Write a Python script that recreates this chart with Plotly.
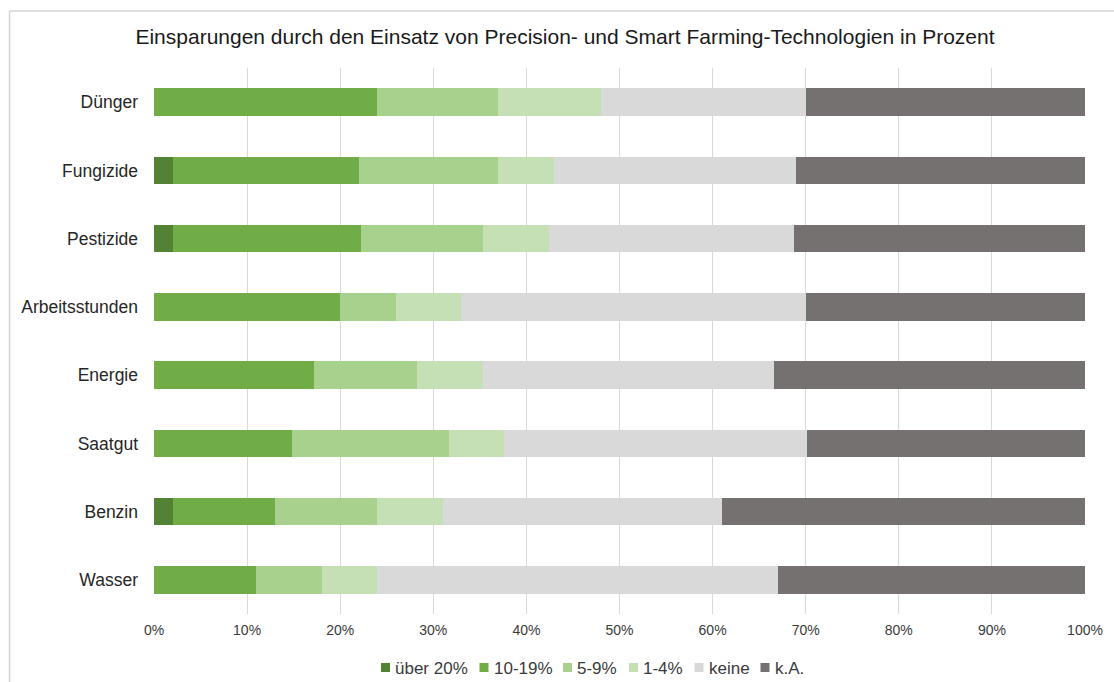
import plotly.graph_objects as go

categories = ["Dünger", "Fungizide", "Pestizide", "Arbeitsstunden", "Energie", "Saatgut", "Benzin", "Wasser"]
series_names = ["über 20%", "10-19%", "5-9%", "1-4%", "keine", "k.A."]
ueber20 = [0, 2, 2, 0, 0, 0, 2, 0]
p10_19 = [24, 20, 20.2, 20, 17.2, 14.8, 11, 11]
p5_9 = [13, 15, 13.1, 6, 11, 16.9, 11, 7]
p1_4 = [11, 6, 7.1, 7, 7.1, 5.9, 7, 6]
keine = [22, 26, 26.3, 37, 31.3, 32.5, 30, 43]
ka = [30, 31, 31.3, 30, 33.4, 29.9, 39, 33]
colors = ["#548235", "#70AD47", "#A9D18E", "#C5E0B4", "#D9D9D9", "#767171"]
x_ticks = [0, 10, 20, 30, 40, 50, 60, 70, 80, 90, 100]
x_ticklabels = ["0%", "10%", "20%", "30%", "40%", "50%", "60%", "70%", "80%", "90%", "100%"]

values = [ueber20, p10_19, p5_9, p1_4, keine, ka]

# plot-area geometry in page pixels (page body margin removed via post_script)
OFF = 0
PLOT_L, PLOT_R, PLOT_T, PLOT_B = 154, 1085, 68, 614
W, H = 1114, 682


def px(xp):
    return (xp - PLOT_L) / (PLOT_R - PLOT_L)


def py(yp):
    return (PLOT_B - yp) / (PLOT_B - PLOT_T)


fig = go.Figure()
for name, vals, col in zip(series_names, values, colors):
    fig.add_trace(go.Bar(
        y=categories, x=vals, name=name, orientation="h",
        marker=dict(color=col, line=dict(width=0)),
        width=0.405, hoverinfo="x+y+name", showlegend=False,
    ))

# custom compact legend (square + label), positioned like the reference
legend_sq_left = [381, 479.5, 563, 629, 694.5, 760.5]
sq_size = 9
legend_y = 667.5
shapes = []
annotations = []
for name, col, xl in zip(series_names, colors, legend_sq_left):
    shapes.append(dict(type="rect", xref="paper", yref="paper",
                       x0=px(xl), x1=px(xl + sq_size),
                       y0=py(legend_y + sq_size / 2), y1=py(legend_y - sq_size / 2),
                       line=dict(width=0), fillcolor=col))
    annotations.append(dict(text=name, xref="paper", yref="paper",
                            x=px(xl + 12), y=py(legend_y + 0.5), xanchor="left", yanchor="middle",
                            showarrow=False, font=dict(size=17, color="#3a3a3a")))

# outer chart frame (top and left edges visible)
frame_style = dict(color="#D4D4D4", width=1.5)
shapes.append(dict(type="line", xref="paper", yref="paper",
                   x0=px(9.5), x1=px(1114), y0=py(11), y1=py(11), line=frame_style, layer="below"))
shapes.append(dict(type="line", xref="paper", yref="paper",
                   x0=px(9.5), x1=px(9.5), y0=py(11), y1=py(682), line=frame_style, layer="below"))

fig.update_layout(
    barmode="stack",
    width=W, height=H,
    margin=dict(l=PLOT_L - OFF, r=W - (PLOT_R - OFF), t=PLOT_T - OFF, b=H - (PLOT_B - OFF), autoexpand=False),
    paper_bgcolor="white", plot_bgcolor="white",
    font=dict(family="Liberation Sans, Arial, sans-serif", color="#262626"),
    title=dict(text="Einsparungen durch den Einsatz von Precision- und Smart Farming-Technologien in Prozent",
               x=px(565), xref="paper", xanchor="center",
               y=1 - (36.5 - OFF) / H, yref="container", yanchor="middle",
               font=dict(size=21, color="#1a1a1a")),
    xaxis=dict(range=[0, 100], tickvals=x_ticks, ticktext=x_ticklabels,
               showgrid=True, gridcolor="#D9D9D9", gridwidth=1.3, zeroline=False,
               showline=False, ticks="", tickfont=dict(size=14, color="#3a3a3a"),
               ticklabelstandoff=6, automargin=False),
    yaxis=dict(categoryorder="array", categoryarray=categories[::-1],
               showgrid=False, showline=False, ticks="", ticklabelstandoff=15,
               tickfont=dict(size=17.5, color="#262626"), automargin=False),
    showlegend=False,
    bargap=0.595,
    shapes=shapes,
    annotations=annotations,
)

fig.write_html("out.html", config={"displayModeBar": False},
               post_script="document.body.style.margin='0';document.body.style.overflow='hidden';")
